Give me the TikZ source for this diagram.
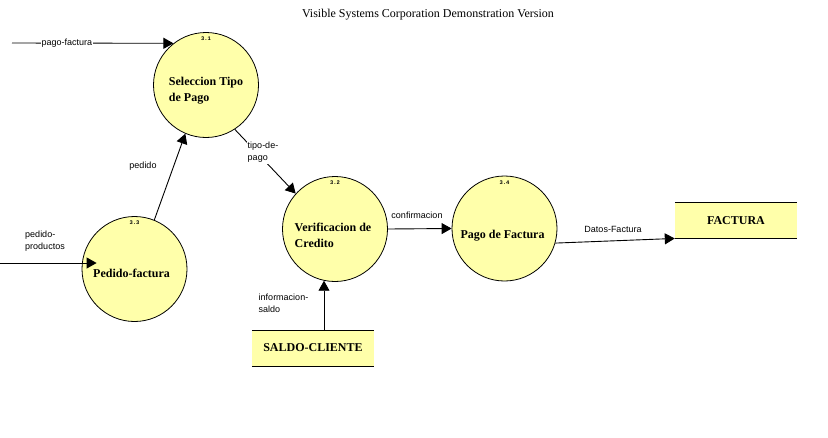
\documentclass[tikz,border=0pt]{standalone}
\usepackage{fontspec}
\setmainfont{Liberation Serif}
\setsansfont{Liberation Sans}
\newfontfamily\numfont{Liberation Mono}
\usetikzlibrary{arrows.meta}
\definecolor{dfdyellow}{RGB}{255,255,170}
\tikzset{
  proc/.style={circle, draw=black, line width=0.8pt, fill=dfdyellow, minimum size=105pt, inner sep=0pt},
  ptext/.style={font=\bfseries\fontsize{12}{16}\selectfont, align=left},
  pnum/.style={font=\numfont\bfseries\fontsize{5.5}{6}\selectfont, anchor=center, yshift=-7pt},
  store/.style={fill=dfdyellow, minimum width=122pt, minimum height=35.5pt, inner sep=0pt, font=\bfseries\fontsize{12}{14}\selectfont},
  flow/.style={line width=0.9pt, -{Triangle[length=10pt,width=11pt]}},
  flabel/.style={font=\sffamily\fontsize{9}{12}\selectfont, align=left, inner sep=1pt}
}
\begin{document}
\begin{tikzpicture}[x=1pt,y=-1pt]
  \useasboundingbox (0,0) rectangle (828,437);
  \node[font=\fontsize{12}{14}\selectfont] (title) at (428,15) {Visible Systems Corporation Demonstration Version};

  % processes
  \node[proc, label={[pnum]90:3.1}, label={[ptext,yshift=-6pt]center:{Seleccion Tipo\\de Pago}}] (p31) at (206,85) {};
  \node[proc, label={[pnum]90:3.3}, label={[ptext,xshift=-3pt,yshift=-4pt]center:{Pedido-factura}}] (p33) at (134.5,269) {};
  \node[proc, label={[pnum]90:3.2}, label={[ptext,xshift=-2pt,yshift=-6pt]center:{Verificacion de\\Credito}}] (p32) at (335,229) {};
  \node[proc, label={[pnum]90:3.4}, label={[ptext,xshift=-2pt,yshift=-7pt]center:{Pago de Factura}}] (p34) at (504.5,228.5) {};

  % stores
  \node[store] (saldo) at (313,348) {SALDO-CLIENTE};
  \node[store] (factura) at (736,220.5) {FACTURA};
  \draw[line width=0.8pt] (saldo.north west) -- (saldo.north east) (saldo.south west) -- (saldo.south east);
  \draw[line width=0.8pt] (factura.north west) -- (factura.north east) (factura.south west) -- (factura.south east);

  % flows
  \coordinate (pfin) at (12,43);
  \coordinate (ppin) at (0,263);
  \draw[flow] (pfin) -- node[flabel, fill=white, pos=0.34] (lpf) {pago-factura} (p31.128);
  \draw[flow, shorten >=-15pt] (ppin) -- (ppin -| p33.west);
  \node[flabel] (lpp) at (45,241) {pedido-\\productos};
  \draw[flow] (p33.68) -- (p31.247);
  \node[flabel] (lped) at (143,166) {pedido};
  \draw[flow] (p31.303) -- (p32.138);
  \node[flabel, fill=white] (ltip) at (263,152.5) {tipo-de-\\pago};
  \draw[flow] (p32.east) -- (p34.west);
  \node[flabel] (lconf) at (417,215) {confirmacion};
  \draw[flow] (p34.-16) -- (factura.south west);
  \node[flabel] (ldat) at (613,229) {Datos-Factura};
  \draw[flow] (saldo.north -| p32.258) -- (p32.258);
  \node[flabel] (linf) at (283.5,303.5) {informacion-\\saldo};
\end{tikzpicture}
\end{document}
